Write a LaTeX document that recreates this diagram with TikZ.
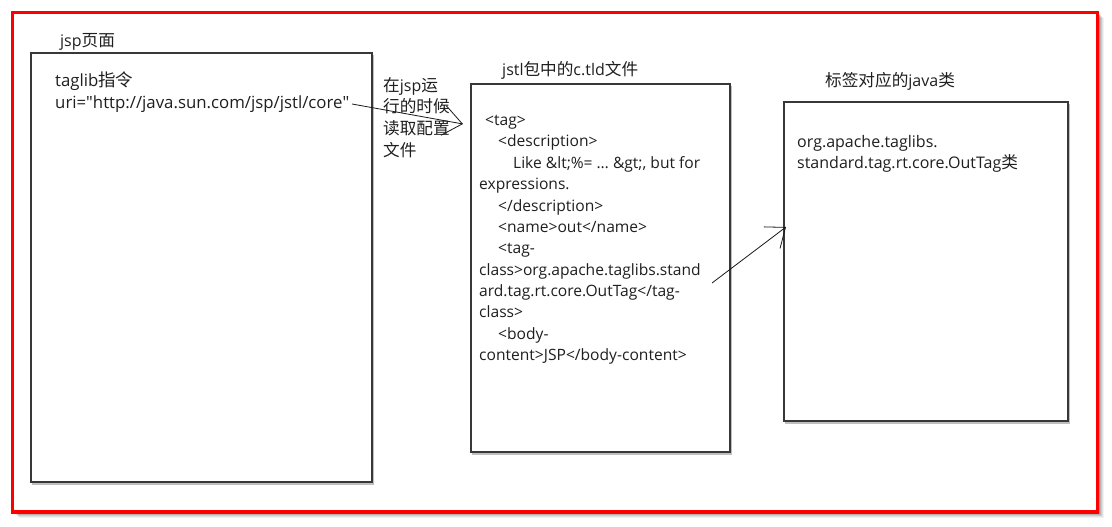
\documentclass[tikz,border=0pt]{standalone}
\usepackage{fontspec}
\setmainfont{Open Sans}
\newfontfamily\cjk{Noto Sans CJK SC}[Scale=1.04]
\usetikzlibrary{arrows.meta}
\begin{document}
\begin{tikzpicture}[x=1pt,y=-1pt,
  panel/.style={draw=black!78, line width=1.2pt, anchor=north west, inner sep=0pt, outer sep=0pt},
  txt/.style={anchor=base west, inner sep=0pt, font=\fontsize{16}{19}\selectfont, text=black!88},
  bigtxt/.style={txt, font=\fontsize{16.8}{20}\selectfont},
  codetxt/.style={txt, font=\fontsize{15.6}{19}\selectfont},
  conn/.style={draw=black!90, line width=0.8pt}]
\useasboundingbox (0,0) rectangle (1112,527);
% frame shadow
\foreach \o/\op in {6/0.05,5/0.07,4/0.09,3/0.12,2/0.15}
  \fill[black,opacity=\op] (12.5+\o,12.5+\o) rectangle (1097.5+\o,512+\o);
\draw[red, line width=3.2pt, fill=white] (12.5,12.5) rectangle (1097.5,512);
% panel shadows
\draw[black!25, line width=1.5pt] (32,484) -- (373.5,484) -- (373.5,55);
\draw[black!25, line width=1.5pt] (472,454) -- (731.5,454) -- (731.5,86);
\draw[black!25, line width=1.5pt] (785,423) -- (1069.5,423) -- (1069.5,104);
% panels
\node[panel, minimum width=341pt, minimum height=429pt] (jsp) at (31,53) {};
\node[panel, minimum width=259pt, minimum height=368pt] (tld) at (471,84) {};
\node[panel, minimum width=284pt, minimum height=319pt] (cls) at (784,102) {};
% titles
\node[txt] (t1) at (60,47) {jsp{\cjk 页面}};
\node[txt] (t2) at (502,76) {jstl{\cjk 包中的}c.tld{\cjk 文件}};
\node[txt] (t3) at (825,87) {{\cjk 标签对应的}java{\cjk 类}};
% box 1 text
\node[bigtxt] (u1) at (55,87) {taglib{\cjk 指令}};
\node[bigtxt] (u2) at (55,108) {uri=\textquotedbl http://java.sun.com/jsp/jstl/core\textquotedbl};
% side text
\node[txt] (s1) at (383,92) {{\cjk 在}jsp{\cjk 运}};
\node[txt] (s2) at (383,113) {\cjk 行的时候};
\node[txt] (s3) at (383,135) {\cjk 读取配置};
\node[txt] (s4) at (383,156) {\cjk 文件};
% box 2 text
\node[codetxt] (d1) at (485,125) {<tag>};
\node[codetxt] (d2) at (498,146.5) {<description>};
\node[codetxt] (d3) at (513,168) {Like \&lt;\%= \ldots\ \&gt;, but for};
\node[codetxt] (d4) at (479,189.5) {expressions.};
\node[codetxt] (d5) at (498,211) {</description>};
\node[codetxt] (d6) at (498,232) {<name>out</name>};
\node[codetxt] (d7) at (498,253.5) {<tag-};
\node[codetxt] (d8) at (479,275) {class>org.apache.taglibs.stand};
\node[codetxt] (d9) at (479,296) {ard.tag.rt.core.OutTag</tag-};
\node[codetxt] (d10) at (479,317.5) {class>};
\node[codetxt] (d11) at (498,339) {<body-};
\node[codetxt] (d12) at (479,360) {content>JSP</body-content>};
% box 3 text
\node[txt] (c1) at (797,147) {org.apache.taglibs.};
\node[txt] (c2) at (797,168) {standard.tag.rt.core.OutTag{\cjk 类}};
% connectors
\coordinate (a1s) at (352,104);
\coordinate (a1e) at (463,124);
\coordinate (a2s) at (712,283);
\coordinate (a2e) at (786,227);
\draw[conn, -{Straight Barb[length=19pt,width=30pt,line width=0.8pt]}] (a1s) -- (a1e);
\draw[conn, -{Straight Barb[length=17pt,width=27pt,line width=0.8pt]}] (a2s) -- (a2e);
\end{tikzpicture}
\end{document}
